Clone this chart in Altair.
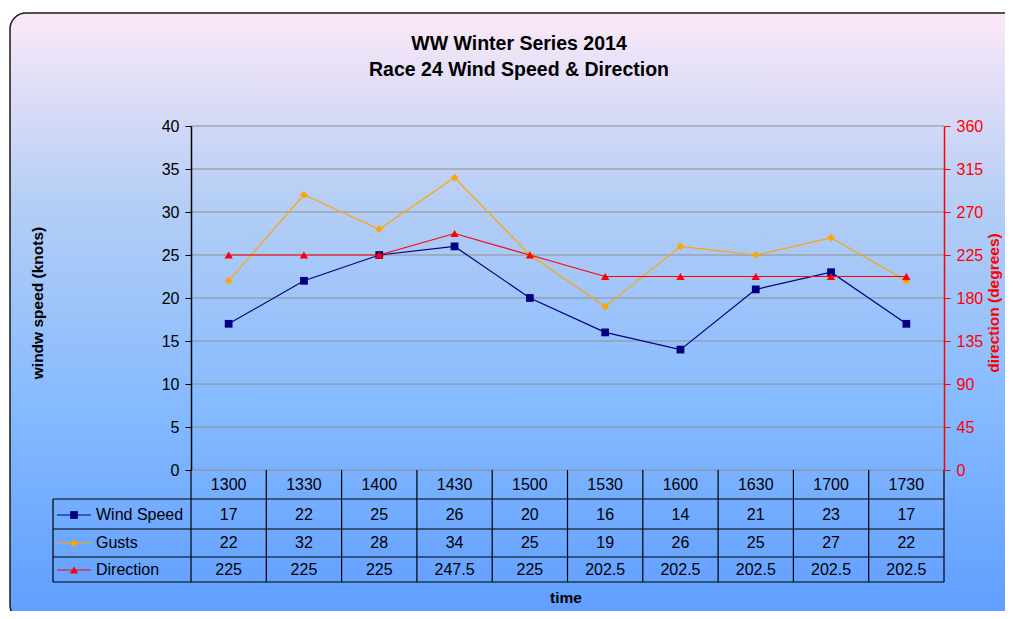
import altair as alt
import pandas as pd

times = ["1300", "1330", "1400", "1430", "1500", "1530", "1600", "1630", "1700", "1730"]
wind_speed = [17, 22, 25, 26, 20, 16, 14, 21, 23, 17]
gusts = [22, 32, 28, 34, 25, 19, 26, 25, 27, 22]
direction = [225, 225, 225, 247.5, 225, 202.5, 202.5, 202.5, 202.5, 202.5]
left_ticks = [0, 5, 10, 15, 20, 25, 30, 35, 40]
right_ticks = [0, 45, 90, 135, 180, 225, 270, 315, 360]

series_names = ["Wind Speed", "Gusts", "Direction"]
series_colors = ["#000080", "#FFA500", "#FF0000"]
series_shapes = ["square", "diamond", "triangle-up"]
series_sizes = [60, 60, 70]

FONT = "Liberation Sans"
W, H = 753, 344
TXT = 16

xscale = alt.Scale(type="band", domain=times, paddingInner=0, paddingOuter=0)

speed_df = pd.DataFrame({
    "time": times * 2,
    "series": ["Wind Speed"] * len(times) + ["Gusts"] * len(times),
    "value": wind_speed + gusts,
})
dir_df = pd.DataFrame({"time": times, "value": direction})
time_df = pd.DataFrame({"time": times})
grid_df = pd.DataFrame({"v": left_ticks})
one = pd.DataFrame({"a": [0]})

# background panel
bg = alt.Chart(one).mark_rect(
    fill=alt.LinearGradient(
        gradient="linear",
        stops=[
            alt.GradientStop(color="#fce8f8", offset=0),
            alt.GradientStop(color="#b5cef5", offset=0.31),
            alt.GradientStop(color="#86bbff", offset=0.64),
            alt.GradientStop(color="#5f9dff", offset=1),
        ],
        x1=0, x2=0, y1=0, y2=1,
    ),
    stroke="#1a1a1a", strokeWidth=1.5, cornerRadius=16,
).encode(x=alt.value(-181), x2=alt.value(900), y=alt.value(-113), y2=alt.value(495))

grid = alt.Chart(grid_df).mark_rule(color="#8f8f8f", strokeWidth=1).encode(
    y=alt.Y("v:Q", scale=alt.Scale(domain=[0, 40], nice=False), axis=None),
    x=alt.value(0), x2=alt.value(W))

color_scale = alt.Scale(domain=series_names[:2], range=series_colors[:2])
shape_scale = alt.Scale(domain=series_names[:2], range=series_shapes[:2])

xenc = alt.X("time:N", scale=xscale, bandPosition=0.5,
             axis=alt.Axis(labels=False, ticks=False, title=None, grid=False,
                           domainColor="black", domainWidth=2, zindex=1))
y_left = alt.Y("value:Q", scale=alt.Scale(domain=[0, 40], nice=False),
               axis=alt.Axis(values=left_ticks, title=None, grid=False, labelFontSize=TXT,
                             labelFont=FONT, labelColor="black", tickColor="black",
                             domainColor="black", domainWidth=1.5, tickSize=6,
                             labelPadding=6, zindex=1))

speed_base = alt.Chart(speed_df).encode(
    x=xenc, y=y_left,
    color=alt.Color("series:N", scale=color_scale, legend=None),
    detail="series:N",
)
speed = alt.layer(
    speed_base.mark_line(strokeWidth=1.2),
    speed_base.mark_point(filled=True, size=60, opacity=1).encode(
        shape=alt.Shape("series:N", scale=shape_scale, legend=None)),
)

y_right = alt.Y("value:Q", scale=alt.Scale(domain=[0, 360], nice=False),
                axis=alt.Axis(orient="right", values=right_ticks, title=None,
                              grid=False, labelFontSize=TXT, labelFont=FONT,
                              labelColor="#FF0000", tickColor="#FF0000",
                              domainColor="#FF0000", domainWidth=1.5, tickSize=6,
                              labelPadding=6, zindex=1))
dir_base = alt.Chart(dir_df).encode(x=xenc, y=y_right)
dirl = alt.layer(
    dir_base.mark_line(color="#FF0000", strokeWidth=1.2),
    dir_base.mark_point(color="#FF0000", filled=True, shape="triangle-up", size=70, opacity=1),
)

# table
row_y = [389, 417, 444]
header_y = 359
hlines = [373, 403, 431, 456]
left_edge = -138

layers = [bg, grid, speed, dirl]

xcell = alt.X("time:N", scale=xscale, bandPosition=0.5, axis=None)
layers.append(alt.Chart(time_df).mark_text(font=FONT, fontSize=TXT, color="black").encode(
    x=xcell, y=alt.value(header_y), text="time:N"))

for name, vals, yy, col, shp, sz in zip(series_names, [wind_speed, gusts, direction], row_y,
                                        series_colors, series_shapes, series_sizes):
    df = pd.DataFrame({"time": times, "label": [f"{v:g}" for v in vals]})
    layers.append(alt.Chart(df).mark_text(font=FONT, fontSize=TXT, color="black").encode(
        x=xcell, y=alt.value(yy), text="label:N"))
    layers.append(alt.Chart(one).mark_rule(color=col, strokeWidth=1.2).encode(
        x=alt.value(-134), x2=alt.value(-100), y=alt.value(yy)))
    layers.append(alt.Chart(one).mark_point(color=col, filled=True, shape=shp, size=sz, opacity=1).encode(
        x=alt.value(-117), y=alt.value(yy)))
    layers.append(alt.Chart(pd.DataFrame({"t": [name]})).mark_text(
        font=FONT, fontSize=TXT, color="black", align="left").encode(
        x=alt.value(-95), y=alt.value(yy), text="t:N"))

# table grid lines
layers.append(alt.Chart(time_df).mark_rule(color="black", strokeWidth=1.2).encode(
    x=alt.X("time:N", scale=xscale, bandPosition=0, axis=None),
    y=alt.value(H), y2=alt.value(hlines[-1])))
layers.append(alt.Chart(one).mark_rule(color="black", strokeWidth=1.2).encode(
    x=alt.value(W), y=alt.value(H), y2=alt.value(hlines[-1])))
layers.append(alt.Chart(one).mark_rule(color="black", strokeWidth=1.2).encode(
    x=alt.value(left_edge), y=alt.value(hlines[0]), y2=alt.value(hlines[-1])))
for hy in hlines:
    layers.append(alt.Chart(one).mark_rule(color="black", strokeWidth=1.2).encode(
        x=alt.value(left_edge), x2=alt.value(W), y=alt.value(hy)))

# titles
layers.append(alt.Chart(pd.DataFrame({"t": ["WW Winter Series 2014"]})).mark_text(
    font=FONT, fontSize=19.5, fontWeight="bold", color="black").encode(
    x=alt.value(328), y=alt.value(-82), text="t:N"))
layers.append(alt.Chart(pd.DataFrame({"t": ["Race 24 Wind Speed & Direction"]})).mark_text(
    font=FONT, fontSize=19.5, fontWeight="bold", color="black").encode(
    x=alt.value(328), y=alt.value(-56), text="t:N"))
layers.append(alt.Chart(pd.DataFrame({"t": ["windw speed (knots)"]})).mark_text(
    font=FONT, fontSize=15.5, fontWeight="bold", color="black", angle=270).encode(
    x=alt.value(-153), y=alt.value(177), text="t:N"))
layers.append(alt.Chart(pd.DataFrame({"t": ["direction (degrees)"]})).mark_text(
    font=FONT, fontSize=15.5, fontWeight="bold", color="#FF0000", angle=270).encode(
    x=alt.value(803), y=alt.value(177), text="t:N"))
layers.append(alt.Chart(pd.DataFrame({"t": ["time"]})).mark_text(
    font=FONT, fontSize=15.5, fontWeight="bold", color="black").encode(
    x=alt.value(375), y=alt.value(472), text="t:N"))

chart = alt.layer(*layers).resolve_scale(
    y="independent", color="independent", shape="independent"
).properties(
    width=W, height=H,
    padding={"left": 183, "top": 118, "right": 61, "bottom": 141},
    autosize=alt.AutoSizeParams(type="none"),
    background="white",
).configure_view(stroke=None)

chart.save("out.html", embed_options={"renderer": "svg", "actions": False})
